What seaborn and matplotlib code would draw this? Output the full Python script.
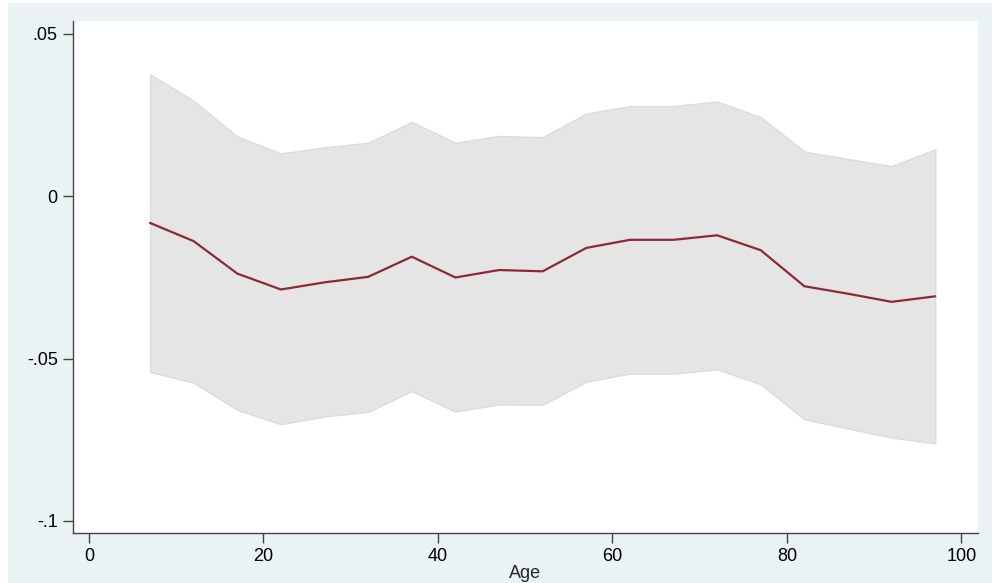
import numpy as np
import pandas as pd
import matplotlib
matplotlib.use("Agg")
import matplotlib.pyplot as plt
import seaborn as sns
from matplotlib.patches import Rectangle

# values
age = [7, 12, 17, 22, 27, 32, 37, 42, 47, 52, 57, 62, 67, 72, 77, 82, 87, 92, 97]
coef = [-0.0082, -0.0138, -0.0238, -0.0287, -0.0265, -0.0248, -0.0186, -0.0250, -0.0227,
        -0.0231, -0.0159, -0.0134, -0.0134, -0.0120, -0.0166, -0.0277, -0.0300, -0.0325, -0.0308]
ci_upper = [0.0376, 0.0294, 0.0184, 0.0132, 0.0151, 0.0165, 0.0229, 0.0165, 0.0186,
            0.0182, 0.0255, 0.0278, 0.0278, 0.0292, 0.0244, 0.0138, 0.0115, 0.0093, 0.0145]
ci_lower = [-0.0541, -0.0574, -0.0658, -0.0702, -0.0678, -0.0664, -0.0600, -0.0663, -0.0641,
            -0.0642, -0.0571, -0.0546, -0.0546, -0.0533, -0.0579, -0.0687, -0.0715, -0.0743, -0.0761]

yticks = [0.05, 0, -0.05, -0.1]
ytick_labels = [".05", "0", "-.05", "-.1"]
xticks = [0, 20, 40, 60, 80, 100]

df = pd.DataFrame({"Age": age, "coef": coef, "lo": ci_lower, "hi": ci_upper})

sns.set_style("ticks")
plt.rcParams["font.family"] = ["Liberation Sans", "DejaVu Sans"]

fig = plt.figure(figsize=(9.92, 5.83), dpi=100)
fig.patch.set_facecolor("white")
# Stata-like light blue background, thin white margin top/left
fig.patches.append(Rectangle((8 / 992, 0), 1, 1 - 3 / 583, transform=fig.transFigure,
                             facecolor="#eaf2f3", edgecolor="none", zorder=-10))

ax = fig.add_axes([73 / 992, 1 - 533 / 583, (978 - 73) / 992, (533 - 21) / 583])
ax.set_facecolor("white")

ax.fill_between(df["Age"], df["lo"], df["hi"], facecolor="#e5e5e5",
                edgecolor="#dcdcdc", linewidth=1.0, zorder=1)
sns.lineplot(data=df, x="Age", y="coef", ax=ax, color="#8c2a33", linewidth=1.6, zorder=2)

ax.set_xlim(-1.83, 101.9)
ax.set_ylim(-0.1037, 0.054)
ax.set_xticks(xticks)
ax.set_yticks(yticks)
ax.set_yticklabels(ytick_labels)

sns.despine(ax=ax)
for s in ["left", "bottom"]:
    ax.spines[s].set_color("#444444")
    ax.spines[s].set_linewidth(1.0)
ax.tick_params(axis="both", colors="#444444", labelcolor="black", labelsize=13,
               length=7, width=1.0, direction="out")
ax.tick_params(axis="y", pad=4)
ax.tick_params(axis="x", pad=4)

ax.set_xlabel("Age", fontsize=13, labelpad=0)
ax.set_ylabel("")

fig.savefig("out.png", dpi=100, facecolor=fig.get_facecolor())
